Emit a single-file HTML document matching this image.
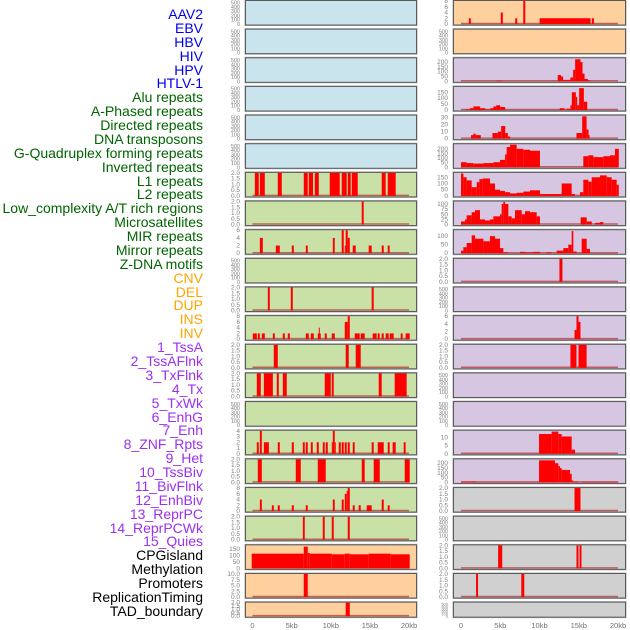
<!DOCTYPE html>
<html><head><meta charset="utf-8">
<style>
html,body{margin:0;padding:0;background:#fff;}
#wrap{position:relative;width:630px;height:630px;overflow:hidden;}
.lab{position:absolute;right:427px;font-family:"Liberation Sans",sans-serif;font-size:14px;line-height:14px;white-space:nowrap;}
svg text{font-family:"Liberation Sans",sans-serif;}
</style></head>
<body>
<div id="wrap">
<svg id="svg" width="630" height="630" style="position:absolute;left:0;top:0"></svg>
</div>
<script>
const trackLabels = ["AAV2","EBV","HBV","HIV","HPV","HTLV-1","Alu repeats","A-Phased repeats","Directed repeats","DNA transposons","G-Quadruplex forming repeats","Inverted repeats","L1 repeats","L2 repeats","Low_complexity A/T rich regions","Microsatellites","MIR repeats","Mirror repeats","Z-DNA motifs","CNV","DEL","DUP","INS","INV","1_TssA","2_TssAFlnk","3_TxFlnk","4_Tx","5_TxWk","6_EnhG","7_Enh","8_ZNF_Rpts","9_Het","10_TssBiv","11_BivFlnk","12_EnhBiv","13_ReprPC","14_ReprPCWk","15_Quies","CPGisland","Methylation","Promoters","ReplicationTiming","TAD_boundary"];
const labelGroups = [6,13,5,15,5];
const groupColors = ["#0000ee","#006400","#ffa500","#9b30f0","#000000"];
const xTickValues = [0,5,10,15,20];
const xTickLabels = ["0","5kb","10kb","15kb","20kb"];

const T500=[0,100,200,300,400,500], T2=[0,0.5,1,1.5,2];
// left column bars [startKb,endKb,value]
const L7=[[0.3,0.8,2],[0.94,1.57,2],[3.23,3.74,2],[6.55,7.06,2],[7.19,7.74,2],[7.96,8.47,2],[9.87,11.15,2],[11.4,12.04,2],[12.17,12.55,2],[12.68,13.45,2],[16.51,17.02,2],[17.28,18.3,2]];
const L8=[[13.96,14.21,2]];
const L9=[[0.94,1.32,4],[2.98,3.49,2],[5.02,5.28,2],[6.81,7.06,2],[10.26,10.51,4],[11.4,11.66,6],[11.79,11.91,2],[11.91,12.17,6],[12.17,12.43,4],[12.81,13.19,2],[14.85,15.23,2],[16.51,16.77,2],[17.28,17.53,2]];
const L11=[[1.96,2.21,2],[4.89,5.15,2],[15.23,15.49,2]];
const L12=[[0.04,0.55,2],[0.68,0.94,2],[1.19,1.57,2],[2.6,2.85,2],[3.87,4.13,2],[4.51,4.77,2],[6.81,7.19,2],[7.45,7.83,2],[8.34,8.72,2],[8.47,8.6,4],[9.23,9.49,2],[10.13,10.51,2],[11.79,12.17,6],[12.17,12.43,8],[13.06,13.7,2],[13.83,14.34,2],[15.36,15.87,2],[16.0,16.26,2],[16.51,16.77,2],[17.02,17.4,2],[17.53,18.04,2],[18.94,19.19,2],[19.57,20.09,2]];
const L13=[[2.72,3.23,2],[11.91,12.3,2],[13.19,13.83,2]];
const L14=[[0.55,1.06,2],[1.45,2.6,2],[3.1,3.36,2],[3.87,4.38,2],[9.23,10.0,2],[10.13,10.38,2],[16.13,16.51,2],[18.17,19.7,2]];
const L16=[[0.55,0.8,2],[0.94,1.19,4],[1.45,2.09,2],[3.23,3.49,2],[5.02,5.28,2],[6.43,6.68,2],[6.81,7.06,2],[7.45,7.7,2],[8.21,8.47,2],[8.98,9.23,2],[9.36,9.62,2],[10.13,10.26,2],[10.26,10.51,4],[10.51,10.64,2],[11.02,11.28,2],[11.4,11.66,2],[11.79,12.04,2],[12.17,12.43,2],[12.81,13.06,2],[15.23,15.49,2],[16.0,16.77,2],[17.28,17.53,2],[17.91,18.3,2],[19.32,19.57,2]];
const L17=[[0.68,1.19,2],[5.53,6.17,2],[8.34,9.36,2],[13.96,14.34,2],[15.49,16.26,2],[19.45,20.09,2]];
const L18=[[0.94,1.19,4],[2.47,2.72,2],[3.23,3.49,2],[5.02,5.28,2],[6.81,7.06,2],[10.26,10.51,4],[11.4,11.66,4],[11.79,12.04,6],[12.04,12.17,7],[12.17,12.43,8],[12.81,13.06,2],[13.57,13.83,2],[14.6,15.23,2],[16.51,16.77,4],[17.28,17.53,2]];
const L19=[[6.43,6.68,2],[8.98,9.23,2],[10.13,10.38,2],[12.17,12.43,2]];
const L20=[[-0.1,6.55,115],[6.55,7.06,170],[7.06,7.32,120],[7.32,10.13,115],[10.13,11.79,110],[11.79,12.43,115],[12.43,14.85,110],[14.85,17.66,115],[17.66,20.09,110]];
const L21=[[6.55,7.06,10]];
const L22=[[11.91,12.43,2]];
// right column bars
const R1=[[1.0,1.25,2],[5.07,5.33,4],[6.91,7.16,2],[7.93,8.19,8],[10.02,16.5,2],[16.67,16.93,2]];
const R3=[[4.48,5.25,5],[12.32,12.75,65],[12.75,13.01,50],[13.01,13.94,15],[13.94,14.29,40],[14.29,14.54,120],[14.54,15.22,230],[15.22,15.48,200],[15.48,15.74,80],[15.74,16.16,25],[16.16,16.42,10]];
const R4=[[0.64,1.15,5],[1.15,1.58,15],[1.58,2.43,30],[2.43,3.07,15],[3.07,3.58,5],[3.71,4.14,15],[4.14,4.48,30],[4.48,4.99,40],[4.99,5.63,25],[12.58,13.18,15],[13.43,13.94,10],[13.94,14.12,40],[14.12,14.63,150],[14.63,14.8,110],[14.8,15.05,40],[15.05,15.65,185],[15.65,16.08,70]];
const R5=[[1.28,1.58,5],[1.58,1.88,7],[1.88,2.52,5],[4.01,4.69,8],[4.69,5.12,10],[5.12,5.63,18],[5.63,5.97,8],[5.97,6.27,3],[14.71,15.44,8],[15.44,16.0,32],[16.0,16.25,13],[16.25,16.38,5]];
const R6=[[0,0.72,55],[0.72,1.57,45],[1.57,2.85,40],[2.85,4.12,45],[4.12,4.97,55],[4.97,5.61,80],[5.61,5.82,140],[5.82,6.24,220],[6.24,7.09,245],[7.09,7.94,200],[7.94,8.79,190],[8.79,10.06,180],[15.58,16.22,120],[16.22,16.86,130],[16.86,18.13,110],[18.13,18.98,120],[18.98,19.62,130],[19.62,20.1,200]];
const R7=[[0,0.3,180],[0.3,0.72,150],[0.72,1.36,125],[1.36,2.0,70],[2.0,2.34,110],[2.34,2.76,135],[2.76,3.69,140],[3.69,4.33,100],[4.33,4.97,50],[4.97,5.61,40],[5.61,6.24,30],[6.24,7.09,20],[7.09,7.94,25],[7.94,8.79,35],[8.79,10.06,45],[10.06,12.82,15],[12.82,14.1,100],[14.1,14.52,15],[15.16,15.58,30],[15.58,16.22,130],[16.22,16.65,115],[16.65,17.71,150],[17.71,18.56,165],[18.56,19.19,150],[19.19,19.83,130],[19.83,20.1,90]];
const R8=[[0,0.51,15],[0.51,0.72,25],[0.72,1.36,45],[1.36,1.78,60],[1.78,2.42,70],[2.42,3.06,25],[3.06,3.69,20],[3.69,4.12,25],[4.12,4.97,40],[4.97,5.18,50],[5.18,5.39,100],[5.39,5.61,110],[5.61,6.03,100],[6.03,6.45,40],[6.45,6.88,30],[6.88,7.73,70],[7.73,8.15,50],[8.15,8.79,65],[8.79,9.64,60],[9.64,10.06,40],[15.24,16.01,35],[16.01,16.65,15],[17.07,17.71,8],[17.71,18.13,12]];
const R9=[[0,0.3,15],[0.3,0.72,35],[0.72,1.36,60],[1.36,1.78,105],[1.78,2.85,85],[2.85,3.69,70],[3.69,4.33,100],[4.33,4.97,85],[4.97,5.39,30],[5.39,6.03,5],[7.52,8.15,8],[8.15,9.21,5],[9.21,10.06,8],[10.91,11.55,5],[12.19,13.04,15],[13.04,13.67,30],[13.67,14.1,50],[14.1,14.31,130],[14.31,14.73,10],[15.37,16.01,85],[16.01,16.43,25]];
const R10=[[12.54,12.92,2]];
const R12=[[14.46,14.71,2.4],[14.71,14.97,6],[14.97,15.22,4.5]];
const R13=[[13.94,14.71,2],[14.97,16.0,2]];
const R16=[[9.94,11.55,12],[11.55,12.4,13.5],[12.4,12.82,12],[12.82,14.1,10.5],[14.1,14.52,2.5]];
const R17=[[0,1.91,8],[1.91,9.94,3],[9.94,11.97,230],[11.97,12.4,200],[12.4,12.61,170],[12.61,12.82,150],[12.82,13.89,130],[13.89,14.1,90],[14.1,14.31,20],[14.31,14.95,8],[15.37,20.1,5]];
const R18=[[14.46,15.22,2]];
const R20=[[4.73,5.25,2],[14.71,14.97,2],[15.1,15.35,2]];
const R21=[[1.92,2.17,2],[7.68,8.06,2]];

const E=null;
// [bars, ymax, ticks] per row
const leftPanels=[[E,540,T500],[E,540,T500],[E,540,T500],[E,540,T500],[E,540,T500],[E,540,T500],
 [L7,2,T2],[L8,2,T2],[L9,6,[0,2,4,6]],[E,540,T500],[L11,2,T2],[L12,8,[0,2,4,6,8]],[L13,2,T2],[L14,2,T2],[E,540,T500],
 [L16,4,[0,1,2,3,4]],[L17,2,T2],[L18,8,[0,2,4,6,8]],[L19,2,T2],[L20,180,[0,50,100,150]],[L21,10,[0,2.5,5,7.5,10]],[L22,2,T2]];
const rightPanels=[[R1,8,[0,2,4,6,8]],[E,540,T500],[R3,240,[0,50,100,150,200]],[R4,195,[0,50,100,150]],[R5,33,[0,10,20,30]],[R6,250,[0,50,100,150,200]],
 [R7,185,[0,50,100,150]],[R8,112,[0,25,50,75,100]],[R9,135,[0,50,100]],[R10,2,T2],[E,540,T500],[R12,6,[0,2,4,6]],[R13,2,T2],[E,540,T500],[E,540,T500],
 [R16,14,[0,5,10]],[R17,240,[0,50,100,150,200]],[R18,2,T2],[E,540,T500],[R20,2,T2],[R21,2,T2],[E,540,T500]];
const leftBg=i=>i<6?"#c9e4ec":(i<19?"#c9e1a6":"#fdd09e");
const rightBg=i=>i<2?"#fdd09e":(i<17?"#d6c6e2":"#d0d0d0");

const NS="http://www.w3.org/2000/svg";
const svg=document.getElementById("svg");
function mk(tag,attrs,parent){const e=document.createElementNS(NS,tag);for(const k in attrs)e.setAttribute(k,attrs[k]);(parent||svg).appendChild(e);return e;}
const cols=[{x0:245.5,x1:416.5,k0:252.5,kpx:7.825,lx:240,panels:leftPanels,bg:leftBg,side:"left"},
            {x0:453.5,x1:625.5,k0:461,kpx:7.85,lx:448,panels:rightPanels,bg:rightBg,side:"right"}];
function fmt(v,ticks){const dec=ticks.some(t=>t%1!==0);return dec?v.toFixed(1):String(v);}
cols.forEach(c=>{
  const xs=kb=>c.k0+kb*c.kpx;
  c.panels.forEach((p,i)=>{
    const top=0.5+i*28.65, h=(i===21?15:24.5);
    const bars=p[0], ymax=p[1], ticks=p[2];
    const ys=v=>top+h-1-(v/ymax)*(h-1.5);
    const g=mk("g",{});
    
    
    mk("rect",{x:c.x0-0.5,y:top-0.5,width:c.x1-c.x0+1,height:h+1,fill:"none",stroke:"#b0b0b0","stroke-width":1},g);
    mk("rect",{x:c.x0,y:top,width:c.x1-c.x0,height:h,fill:c.bg(i),stroke:"#5a5a5a","stroke-width":1},g);
    const fs=ticks.length>5&&h<20?4:(ticks.length>5?5.5:6.5);
    ticks.forEach(t=>{
      const tx=mk("text",{x:c.lx,y:ys(t)+2,"text-anchor":"end","font-size":fs,fill:"#808080"},g);
      tx.textContent=fmt(t,ticks);
      
      
    });
    if(bars){
      mk("line",{x1:xs(0),x2:xs(20),y1:ys(0)-0.5,y2:ys(0)-0.5,stroke:"#b03030","stroke-opacity":0.7,"stroke-width":1.5},g);
      bars.forEach(b=>{
        const r=mk("rect",{x:xs(b[0]),y:ys(b[2]),width:Math.max(0.8,xs(b[1])-xs(b[0])),height:ys(0)-ys(b[2]),fill:"#ff0000"},g);
        
        
      });
    }
  });
  xTickValues.forEach((v,j)=>{
    const t=mk("text",{x:xs(v),y:628,"text-anchor":"middle","font-size":7.5,fill:"#707070"});
    t.textContent=xTickLabels[j];
    
    
  });
});
// labels
const wrap=document.getElementById("wrap");
let gi=0,cnt=0;
trackLabels.forEach((s,i)=>{
  while(cnt>=labelGroups[gi]){cnt=0;gi++;}
  cnt++;
  const d=document.createElement("div");
  d.className="lab";
  d.style.top=(7+i*13.88)+"px";
  d.style.color=groupColors[gi];
  d.textContent=s;
  
  
  wrap.appendChild(d);
});
</script>
</body></html>
